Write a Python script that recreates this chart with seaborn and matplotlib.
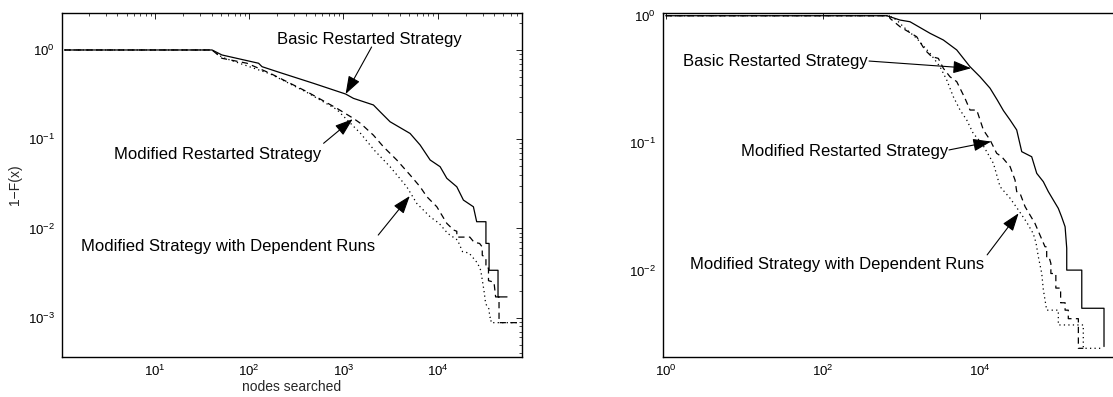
import numpy as np
import matplotlib
matplotlib.use("Agg")
import matplotlib.pyplot as plt
import seaborn as sns
from matplotlib.ticker import LogLocator, NullLocator, NullFormatter, LogFormatterSciNotation

# ---------------- data ----------------
# Left panel: 1-F(x) vs nodes searched
LB_x = [1.1, 40.4, 51.5, 126, 137, 214, 482, 1057, 1279, 2085, 2455, 3130, 5110, 6530, 8340, 10640,
        12530, 16000, 18800, 24000, 26000, 32600, 32600, 35200, 35200, 43800, 43800, 54600]
LB_y = [1, 1, 0.879, 0.71, 0.65, 0.557, 0.423, 0.321, 0.287, 0.242, 0.203, 0.157, 0.116, 0.0861, 0.0585,
        0.0492, 0.0365, 0.0293, 0.0208, 0.0175, 0.0119, 0.0119, 0.0068, 0.0068, 0.0034, 0.0034, 0.00171, 0.00171]

LM_x = [1.1, 40.4, 51.5, 95, 167, 410, 853, 1280, 1528, 2085, 2660, 3690, 5110, 6530, 7690, 9820, 12530,
        14800, 16000, 16000, 22000, 24400, 27900, 29800, 29800, 32600, 32600, 34700, 34700, 39700, 41300,
        44900, 44900, 71000]
LM_y = [1, 1, 0.807, 0.71, 0.548, 0.341, 0.222, 0.171, 0.15, 0.111, 0.0824, 0.0585, 0.0397, 0.0293, 0.0227,
        0.0175, 0.0114, 0.0096, 0.0093, 0.0080, 0.0080, 0.0070, 0.0068, 0.0062, 0.0050, 0.0047, 0.0036,
        0.0036, 0.0026, 0.0025, 0.00171, 0.00171, 0.00088, 0.00088]

LD_x = [1.1, 40.4, 51.5, 167, 410, 853, 1197, 1525, 2120, 3130, 4710, 6010, 8340, 10400, 12800, 16300,
        18400, 21600, 26500, 28700, 29900, 31100, 32400, 35000, 35900, 36900, 36900, 71000]
LD_y = [1, 1, 0.83, 0.54, 0.335, 0.215, 0.15, 0.116, 0.0757, 0.0492, 0.0293, 0.0191, 0.0135, 0.0114,
        0.0088, 0.0074, 0.0055, 0.0053, 0.0041, 0.0034, 0.0026, 0.0020, 0.00143, 0.00126, 0.00101,
        0.00101, 0.00088, 0.00088]

# Right panel
RB_x = [1, 652, 962, 1290, 2320, 3430, 5080, 7500, 10060, 13500, 16700, 20000, 24300, 29500, 34200, 45800,
        53100, 64400, 74600, 86400, 100000, 110000, 122000, 128000, 128000, 199000, 199000, 382000, 382000]
RB_y = [1, 1, 0.925, 0.897, 0.728, 0.645, 0.539, 0.398, 0.332, 0.27, 0.218, 0.18, 0.152, 0.127, 0.0858,
        0.0783, 0.058, 0.0499, 0.0417, 0.0358, 0.0308, 0.0265, 0.0221, 0.015, 0.0101, 0.0101, 0.00507,
        0.00507, 0.00254]

RM_x = [1, 700, 718, 962, 1230, 1570, 2000, 2440, 2960, 3430, 4170, 5080, 6470, 7500, 9140, 11100, 13500,
        16400, 19000, 24300, 28100, 29500, 32500, 37700, 43600, 50400, 58400, 67700, 71100, 71100, 77000,
        80400, 80400, 93000, 93000, 107000, 107000, 122000, 122000, 134000, 134000, 180000, 180000, 208000]
RM_y = [1, 1, 0.953, 0.82, 0.749, 0.684, 0.539, 0.477, 0.463, 0.387, 0.332, 0.304, 0.225, 0.182, 0.182,
        0.127, 0.106, 0.0833, 0.0783, 0.0655, 0.0514, 0.0417, 0.0405, 0.0318, 0.0273, 0.0235, 0.019, 0.0154,
        0.0154, 0.0125, 0.0125, 0.0114, 0.0095, 0.0095, 0.0073, 0.0073, 0.0056, 0.0056, 0.0049, 0.0049,
        0.0042, 0.0042, 0.00246, 0.00246]

RD_x = [1, 700, 873, 1060, 1570, 2320, 3110, 3790, 4590, 5600, 6810, 8260, 10600, 14900, 18100, 24300,
        30900, 39500, 48000, 52000, 55600, 61500, 64400, 71100, 100000, 100000, 208000, 208000, 357000]
RD_y = [1, 1, 0.925, 0.82, 0.665, 0.507, 0.398, 0.313, 0.232, 0.182, 0.152, 0.119, 0.1, 0.0695, 0.0456,
        0.037, 0.030, 0.024, 0.0195, 0.0165, 0.0129, 0.0095, 0.0071, 0.0049, 0.0049, 0.00375, 0.00375,
        0.00246, 0.00246]

series_labels = ["Basic Restarted Strategy", "Modified Restarted Strategy",
                 "Modified Strategy with Dependent Runs"]
x_label = "nodes searched"
y_label = "1\u2212F(x)"

# annotation anchors (data coords): text centre, arrow tail, arrow tip
L_text = [(1905, 1.295), (46, 0.0682), (60.3, 0.00624)]
L_tail = [(1995, 1.08), (617, 0.09), (2345, 0.00843)]
L_tip = [(1057, 0.321), (1256, 0.168), (5070, 0.0231)]
R_text = [(24.9, 0.441), (188, 0.0858), (152, 0.0112)]
R_tail = [(388, 0.441), (4050, 0.0885), (12400, 0.0133)]
R_tip = [(7730, 0.387), (13900, 0.103), (31200, 0.0282)]

# ---------------- style ----------------
sns.set_theme(style="white")
plt.rcParams["font.family"] = ["Liberation Sans", "DejaVu Sans"]
plt.rcParams["mathtext.fontset"] = "custom"
plt.rcParams["mathtext.rm"] = "Liberation Sans"
plt.rcParams["mathtext.it"] = "Liberation Sans:italic"
plt.rcParams["axes.unicode_minus"] = True

W, H = 1113, 397
fig = plt.figure(figsize=(W / 100, H / 100), dpi=100)
fig.patch.set_facecolor("white")
ax1 = fig.add_axes([62 / W, (H - 356.7) / H, 460 / W, 343.4 / H])
ax2 = fig.add_axes([663 / W, (H - 356.7) / H, 460 / W, 343.4 / H])

SOLID = "-"
DASHED = (0, (5, 3.5))
DOTTED = (0, (1.0, 2.6))

def draw(ax, x, y, ls, lw):
    assert len(x) == len(y)
    sns.lineplot(x=np.asarray(x, float), y=np.asarray(y, float), ax=ax, color="black",
                 linewidth=lw, linestyle=ls, sort=False, estimator=None, errorbar=None)

for ax in (ax1, ax2):
    ax.set_xscale("log")
    ax.set_yscale("log")

draw(ax1, LD_x, LD_y, DOTTED, 0.9)
draw(ax1, LM_x, LM_y, DASHED, 0.9)
draw(ax1, LB_x, LB_y, SOLID, 0.9)
draw(ax2, RD_x, RD_y, DOTTED, 0.9)
draw(ax2, RM_x, RM_y, DASHED, 0.9)
draw(ax2, RB_x, RB_y, SOLID, 0.9)

ax1.set_xlim(10 ** 0.014, 10 ** 4.896)
ax1.set_ylim(10 ** -3.437, 10 ** 0.411)
ax2.set_xlim(10 ** -0.036, 10 ** 5.824)
ax2.set_ylim(10 ** -2.675, 10 ** 0.019)

ax1.xaxis.set_major_locator(LogLocator(base=10, numticks=20))
ax1.xaxis.set_minor_locator(LogLocator(base=10, subs=np.arange(2, 10), numticks=100))
ax1.yaxis.set_major_locator(LogLocator(base=10, numticks=20))
ax1.yaxis.set_minor_locator(LogLocator(base=10, subs=np.arange(2, 10), numticks=100))
ax2.xaxis.set_major_locator(LogLocator(base=100, numticks=20))
ax2.xaxis.set_minor_locator(NullLocator())
ax2.yaxis.set_major_locator(LogLocator(base=10, numticks=20))
ax2.yaxis.set_minor_locator(LogLocator(base=10, subs=np.arange(2, 10), numticks=100))

for ax in (ax1, ax2):
    ax.xaxis.set_major_formatter(LogFormatterSciNotation(base=10))
    ax.yaxis.set_major_formatter(LogFormatterSciNotation(base=10))
    ax.xaxis.set_minor_formatter(NullFormatter())
    ax.yaxis.set_minor_formatter(NullFormatter())
    ax.tick_params(which="both", direction="in", top=True, right=True, colors="black",
                   labelsize=9.5, pad=5)
    ax.tick_params(which="major", length=4.5, width=0.6)
    ax.tick_params(which="minor", length=2.3, width=0.5)
    for sp in ax.spines.values():
        sp.set_visible(True)
        sp.set_color("black")
        sp.set_linewidth(1.0)
    ax.set_facecolor("white")
    ax.grid(False)

ax1.set_xlabel(x_label, fontsize=10, labelpad=1)
ax1.set_ylabel(y_label, fontsize=10, labelpad=4)
ax2.set_xlabel("")
ax2.set_ylabel("")

arrow_kw = dict(arrowstyle="-|>,head_length=1.0,head_width=0.35", color="black", lw=0.8,
                shrinkA=0, shrinkB=0, mutation_scale=11)

def annotate(ax, texts, tails, tips):
    for lab, tpos, tail, tip in zip(series_labels, texts, tails, tips):
        ax.text(tpos[0], tpos[1], lab, ha="center", va="center", fontsize=12, color="black")
        ax.annotate("", xy=tip, xytext=tail, arrowprops=arrow_kw)

annotate(ax1, L_text, L_tail, L_tip)
annotate(ax2, R_text, R_tail, R_tip)

fig.savefig("out.png", dpi=100, facecolor="white")
